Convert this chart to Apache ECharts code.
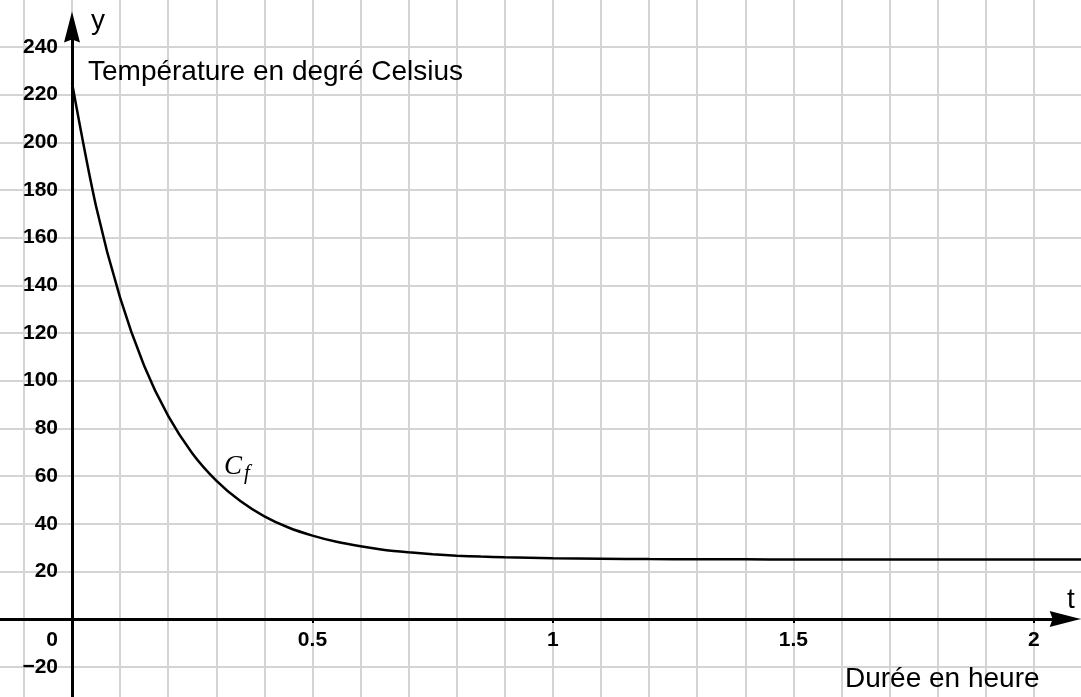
<html>
<head>
    <meta charset="utf-8">
    <title>Température en degré Celsius</title>
    <style>
    html, body, #main {
      padding: 0;
      margin: 0;
      height: 100%;
      width: 100%;
      background: #fff;
    }
    </style>
    <script src="https://cdn.jsdelivr.net/npm/echarts@6/dist/echarts.min.js"></script>
</head>
<body>
    <div id="main"></div>
    <script>
    var tValues = [0, 0.05, 0.1, 0.15, 0.2, 0.25, 0.3, 0.35, 0.4, 0.45, 0.5, 0.55, 0.6, 0.65, 0.7,
                   0.75, 0.8, 0.85, 0.9, 0.95, 1.0, 1.1, 1.2, 1.3, 1.4, 1.5, 1.6, 1.8, 2.0, 2.1];
    var temperature = [225, 173.2, 134.8, 106.3, 85.2, 69.6, 58.1, 49.5, 43.1, 38.4, 35.0, 32.4, 30.5, 29.0, 28.0,
                       27.2, 26.6, 26.2, 25.9, 25.7, 25.5, 25.3, 25.15, 25.08, 25.05, 25.02, 25, 25, 25, 25];
    var xLabelValues = [0, 0.5, 1, 1.5, 2];
    var xTickValues = [0.5, 1, 1.5, 2];
    var yLabelValues = [-20, 20, 40, 60, 80, 100, 120, 140, 160, 180, 200, 220, 240];

    var curve = [];
    for (var i = 0; i < tValues.length; i++) {
        curve.push([tValues[i], temperature[i]]);
    }

    var font = 'Liberation Sans, Arial, sans-serif';
    var arrow = 'path://M8,0 L16,31 L8,28 L0,31 Z';
    var gridColor = '#d4d4d4';
    var xMin = -0.1497, xMax = 2.098;
    var yMin = -32.7, yMax = 259.7;

    var myChart = echarts.init(document.getElementById('main'));
    var option = {
        backgroundColor: '#fff',
        animation: false,
        grid: {
            left: 0,
            right: 0,
            top: 0,
            bottom: 0,
            containLabel: false,
            outerBoundsMode: 'none'
        },
        title: [
            {
                text: 'y',
                left: 86, top: 2,
                textStyle: {fontFamily: font, fontSize: 28, fontWeight: 'normal', color: '#000'}
            },
            {
                text: 'Température en degré Celsius',
                left: 83, top: 53,
                textStyle: {fontFamily: font, fontSize: 28, fontWeight: 'normal', color: '#000'}
            },
            {
                text: 't',
                left: 1062, top: 581,
                textStyle: {fontFamily: font, fontSize: 28, fontWeight: 'normal', color: '#000'}
            },
            {
                text: 'Durée en heure',
                left: 840, top: 660,
                textStyle: {fontFamily: font, fontSize: 28, fontWeight: 'normal', color: '#000'}
            },
            {
                text: '{c|C}{f|f}',
                left: 219, top: 444,
                textStyle: {
                    fontWeight: 'normal',
                    rich: {
                        c: {fontFamily: 'Liberation Serif', fontStyle: 'italic', fontWeight: 'normal', fontSize: 27, color: '#000'},
                        f: {fontFamily: 'Liberation Serif', fontStyle: 'italic', fontWeight: 'normal', fontSize: 21, color: '#000', padding: [14, 0, 0, 2]}
                    }
                }
            }
        ],
        xAxis: [
            {
                // graduations et valeurs, remontées jusqu'à y = 0
                type: 'value',
                min: xMin,
                max: xMax,
                position: 'bottom',
                offset: -78,
                axisLine: {show: false, onZero: false},
                axisTick: {
                    show: true,
                    customValues: xTickValues,
                    length: 4,
                    lineStyle: {color: '#000', width: 2}
                },
                axisLabel: {
                    show: true,
                    customValues: xLabelValues,
                    margin: 11,
                    fontFamily: font,
                    fontSize: 21,
                    fontWeight: 'bold',
                    color: '#000',
                    formatter: function (v) {
                        return v === 0 ? '{o|0}' : String(v);
                    },
                    rich: {
                        o: {fontFamily: font, fontSize: 21, fontWeight: 'bold', color: '#000', padding: [0, 40, 0, 0]}
                    }
                },
                splitLine: {show: false}
            },
            {
                // quadrillage vertical tous les 0,1
                type: 'value',
                min: xMin,
                max: xMax,
                minInterval: 0.1,
                maxInterval: 0.1,
                splitNumber: 22,
                axisLine: {show: false, onZero: false},
                axisTick: {show: false},
                axisLabel: {show: false},
                splitLine: {show: true, showMinLine: false, showMaxLine: false, lineStyle: {color: gridColor, width: 2}}
            }
        ],
        yAxis: {
            type: 'value',
            min: yMin,
            max: yMax,
            minInterval: 20,
            maxInterval: 20,
            splitNumber: 15,
            position: 'left',
            offset: -72,
            axisLine: {show: false, onZero: false},
            axisTick: {show: false},
            axisLabel: {
                show: true,
                customValues: yLabelValues,
                margin: 14,
                fontFamily: font,
                fontSize: 21,
                fontWeight: 'bold',
                color: '#000',
                formatter: function (v) {
                    return v < 0 ? '\u2212' + Math.abs(v) : String(v);
                }
            },
            splitLine: {show: true, showMinLine: false, showMaxLine: false, lineStyle: {color: gridColor, width: 2}}
        },
        series: [
            {
                type: 'line',
                data: curve,
                smooth: 0.3,
                showSymbol: false,
                lineStyle: {color: '#000', width: 2.5},
                markLine: {
                    silent: true,
                    symbol: ['none', arrow],
                    symbolSize: [16, 31],
                    label: {show: false},
                    lineStyle: {color: '#000', width: 3, type: 'solid'},
                    data: [
                        [{coord: [xMin, 0]}, {coord: [2.065, 0]}],
                        [{coord: [0, yMin]}, {coord: [0, 248.4]}]
                    ]
                }
            }
        ]
    };
    myChart.setOption(option);
    window.onresize = function () {
        myChart.resize();
    };
    </script>
</body>
</html>
